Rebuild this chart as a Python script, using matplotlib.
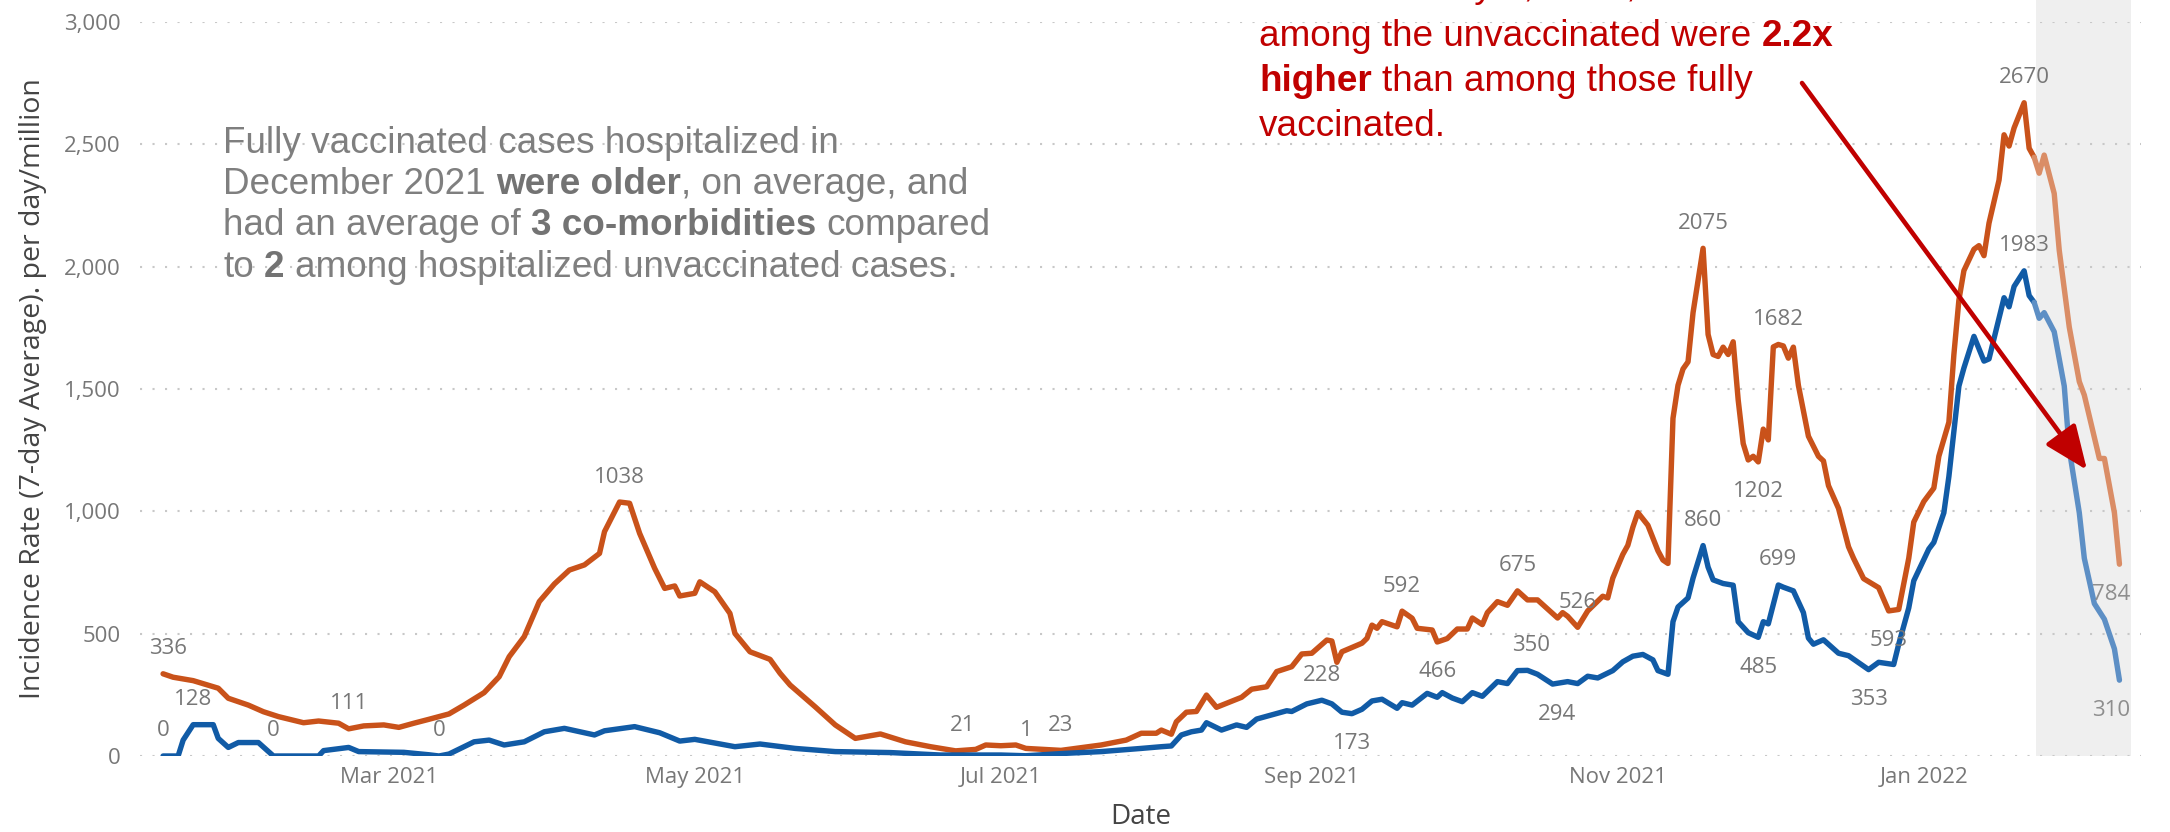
import pandas as pd
import matplotlib
matplotlib.use("Agg")
import matplotlib.pyplot as plt
import matplotlib.dates as mdates
from matplotlib.patches import FancyArrowPatch

# hospitalization incidence, 7-day average per day/million
unvax_dates = [
    "2021-01-15", "2021-01-17", "2021-01-21", "2021-01-26", "2021-01-28", "2021-02-01",
    "2021-02-04", "2021-02-07", "2021-02-12", "2021-02-15", "2021-02-19", "2021-02-21",
    "2021-02-24", "2021-02-28", "2021-03-03", "2021-03-06", "2021-03-09", "2021-03-13",
    "2021-03-16", "2021-03-20", "2021-03-23", "2021-03-25", "2021-03-28", "2021-03-31",
    "2021-04-03", "2021-04-06", "2021-04-09", "2021-04-12", "2021-04-13", "2021-04-16",
    "2021-04-18", "2021-04-20", "2021-04-23", "2021-04-25", "2021-04-27", "2021-04-28",
    "2021-05-01", "2021-05-02", "2021-05-05", "2021-05-08", "2021-05-09", "2021-05-12",
    "2021-05-16", "2021-05-18", "2021-05-20", "2021-05-25", "2021-05-29", "2021-06-02",
    "2021-06-07", "2021-06-12", "2021-06-17", "2021-06-22", "2021-06-26", "2021-06-28",
    "2021-07-01", "2021-07-04", "2021-07-06", "2021-07-13", "2021-07-21", "2021-07-26",
    "2021-07-29", "2021-08-01", "2021-08-02", "2021-08-04", "2021-08-05", "2021-08-07",
    "2021-08-09", "2021-08-11", "2021-08-13", "2021-08-18", "2021-08-20", "2021-08-23",
    "2021-08-25", "2021-08-28", "2021-08-30", "2021-09-01", "2021-09-04", "2021-09-05",
    "2021-09-06", "2021-09-07", "2021-09-11", "2021-09-12", "2021-09-13", "2021-09-14",
    "2021-09-15", "2021-09-18", "2021-09-19", "2021-09-21", "2021-09-22", "2021-09-25",
    "2021-09-26", "2021-09-28", "2021-09-30", "2021-10-02", "2021-10-03", "2021-10-05",
    "2021-10-06", "2021-10-08", "2021-10-10", "2021-10-12", "2021-10-14", "2021-10-16",
    "2021-10-20", "2021-10-21", "2021-10-22", "2021-10-24", "2021-10-26", "2021-10-29",
    "2021-10-30", "2021-10-31", "2021-11-02", "2021-11-03", "2021-11-04", "2021-11-05",
    "2021-11-07", "2021-11-09", "2021-11-10", "2021-11-11", "2021-11-12", "2021-11-13",
    "2021-11-14", "2021-11-15", "2021-11-16", "2021-11-18", "2021-11-19", "2021-11-20",
    "2021-11-21", "2021-11-22", "2021-11-23", "2021-11-24", "2021-11-25", "2021-11-26",
    "2021-11-27", "2021-11-28", "2021-11-29", "2021-11-30", "2021-12-01", "2021-12-02",
    "2021-12-03", "2021-12-04", "2021-12-05", "2021-12-06", "2021-12-07", "2021-12-09",
    "2021-12-11", "2021-12-12", "2021-12-13", "2021-12-15", "2021-12-17", "2021-12-18",
    "2021-12-20", "2021-12-23", "2021-12-25", "2021-12-27", "2021-12-29", "2021-12-30",
    "2022-01-01", "2022-01-03", "2022-01-04", "2022-01-06", "2022-01-07", "2022-01-08",
    "2022-01-09", "2022-01-11", "2022-01-12", "2022-01-13", "2022-01-14", "2022-01-16",
    "2022-01-17", "2022-01-18", "2022-01-19", "2022-01-21", "2022-01-22", "2022-01-23",
    "2022-01-24", "2022-01-25", "2022-01-27", "2022-01-28", "2022-01-30", "2022-02-01",
    "2022-02-02", "2022-02-05", "2022-02-06", "2022-02-08", "2022-02-09",
]
unvax_rates = [
    336, 322, 308, 277, 236, 208,
    181, 161, 136, 143, 134, 111,
    123, 127, 117, 134, 150, 172,
    208, 259, 324, 406, 488, 631,
    703, 760, 781, 828, 917, 1038,
    1033, 910, 767, 685, 695, 654,
    665, 712, 671, 583, 501, 426,
    395, 338, 290, 201, 127, 72,
    90, 58, 38, 21, 27, 45,
    42, 45, 31, 23, 45, 65,
    93, 93, 106, 89, 140, 179,
    182, 249, 199, 240, 273, 283,
    345, 365, 417, 420, 474, 470,
    383, 426, 461, 481, 535, 522,
    549, 528, 592, 563, 522, 515,
    466, 480, 519, 519, 564, 537,
    586, 631, 616, 675, 638, 638,
    564, 586, 571, 526, 593, 653,
    646, 727, 824, 861, 935, 995,
    943, 839, 801, 787, 1380, 1515,
    1582, 1611, 1812, 2075, 1723, 1641,
    1633, 1671, 1641, 1693, 1455, 1277,
    1210, 1225, 1202, 1336, 1292, 1672,
    1682, 1676, 1626, 1671, 1515, 1307,
    1225, 1206, 1105, 1012, 855, 808,
    725, 688, 593, 599, 808, 956,
    1040, 1095, 1225, 1364, 1641, 1864,
    1984, 2071, 2086, 2045, 2178, 2354,
    2539, 2493, 2567, 2670, 2484, 2447,
    2382, 2456, 2299, 2067, 1753, 1530,
    1475, 1216, 1216, 994, 784,
]

vax_dates = [
    "2021-01-15", "2021-01-18", "2021-01-19", "2021-01-21", "2021-01-25", "2021-01-26",
    "2021-01-28", "2021-01-30", "2021-02-03", "2021-02-06", "2021-02-15", "2021-02-16",
    "2021-02-21", "2021-02-23", "2021-03-04", "2021-03-09", "2021-03-11", "2021-03-13",
    "2021-03-18", "2021-03-21", "2021-03-24", "2021-03-28", "2021-04-01", "2021-04-05",
    "2021-04-11", "2021-04-13", "2021-04-19", "2021-04-24", "2021-04-28", "2021-05-01",
    "2021-05-09", "2021-05-14", "2021-05-21", "2021-05-29", "2021-06-09", "2021-06-19",
    "2021-07-01", "2021-07-06", "2021-07-14", "2021-07-21", "2021-07-29", "2021-08-02",
    "2021-08-04", "2021-08-06", "2021-08-08", "2021-08-10", "2021-08-11", "2021-08-14",
    "2021-08-17", "2021-08-19", "2021-08-21", "2021-08-24", "2021-08-27", "2021-08-28",
    "2021-08-31", "2021-09-03", "2021-09-05", "2021-09-07", "2021-09-09", "2021-09-11",
    "2021-09-13", "2021-09-15", "2021-09-18", "2021-09-19", "2021-09-21", "2021-09-24",
    "2021-09-26", "2021-09-27", "2021-09-29", "2021-10-01", "2021-10-03", "2021-10-05",
    "2021-10-08", "2021-10-10", "2021-10-12", "2021-10-14", "2021-10-16", "2021-10-19",
    "2021-10-22", "2021-10-24", "2021-10-26", "2021-10-28", "2021-10-31", "2021-11-02",
    "2021-11-04", "2021-11-06", "2021-11-08", "2021-11-09", "2021-11-11", "2021-11-12",
    "2021-11-13", "2021-11-15", "2021-11-16", "2021-11-18", "2021-11-19", "2021-11-20",
    "2021-11-22", "2021-11-24", "2021-11-25", "2021-11-27", "2021-11-29", "2021-11-30",
    "2021-12-01", "2021-12-03", "2021-12-04", "2021-12-06", "2021-12-08", "2021-12-09",
    "2021-12-10", "2021-12-12", "2021-12-15", "2021-12-17", "2021-12-21", "2021-12-23",
    "2021-12-26", "2021-12-27", "2021-12-29", "2021-12-30", "2022-01-02", "2022-01-03",
    "2022-01-05", "2022-01-06", "2022-01-08", "2022-01-09", "2022-01-11", "2022-01-13",
    "2022-01-14", "2022-01-17", "2022-01-18", "2022-01-19", "2022-01-21", "2022-01-22",
    "2022-01-23", "2022-01-24", "2022-01-25", "2022-01-27", "2022-01-29", "2022-01-30",
    "2022-02-01", "2022-02-02", "2022-02-04", "2022-02-06", "2022-02-08", "2022-02-09",
]
vax_rates = [
    0, 0, 65, 128, 128, 72,
    35, 55, 55, 0, 0, 22,
    35, 18, 15, 5, 0, 8,
    58, 65, 45, 58, 99, 113,
    86, 103, 120, 95, 61, 68,
    38, 49, 31, 18, 14, 4,
    4, 1, 11, 18, 31, 38,
    41, 86, 99, 106, 136, 106,
    127, 117, 151, 168, 185, 182,
    213, 228, 213, 179, 173, 191,
    225, 232, 195, 218, 208, 256,
    240, 259, 237, 222, 259, 244,
    304, 296, 349, 350, 334, 294,
    304, 296, 326, 319, 349, 385,
    408, 415, 393, 349, 334, 549,
    609, 646, 727, 860, 772, 720,
    705, 698, 549, 504, 485, 549,
    540, 699, 690, 675, 586, 482,
    457, 475, 420, 410, 353, 383,
    374, 457, 605, 716, 846, 873,
    994, 1142, 1512, 1586, 1715, 1614,
    1623, 1873, 1836, 1919, 1983, 1882,
    1854, 1789, 1812, 1734, 1512, 1253,
    994, 808, 623, 559, 438, 310,
]

# labelled points: (date, +1 above / -1 below, x nudge in px)
unvax_labels = [
    ("2021-01-15", 1, 5), ("2021-02-21", 1, 0), ("2021-04-16", 1, 0),
    ("2021-06-22", 1, 7), ("2021-07-13", 1, 0), ("2021-09-19", 1, 0),
    ("2021-09-26", -1, 0), ("2021-10-12", 1, 0), ("2021-10-24", 1, 0),
    ("2021-11-18", 1, 0), ("2021-11-29", -1, 0), ("2021-12-03", 1, 0),
    ("2021-12-25", -1, 0), ("2022-01-21", 1, 0), ("2022-02-09", -1, -8),
]
vax_labels = [
    ("2021-01-15", 1, 0), ("2021-01-21", 1, 0), ("2021-02-06", 1, 0),
    ("2021-03-11", 1, 0), ("2021-07-06", 1, 0), ("2021-09-03", 1, 0),
    ("2021-09-09", -1, 0), ("2021-10-14", 1, 4), ("2021-10-19", -1, 4),
    ("2021-11-18", 1, 0), ("2021-11-29", -1, 0), ("2021-12-03", 1, 0),
    ("2021-12-21", -1, 0), ("2022-01-21", 1, 0), ("2022-02-09", -1, -8),
]

partial_from = "2022-01-23"   # latest data, still incomplete (shaded)

W, H = 2170, 832
ORANGE, ORANGE_LT = "#C9521A", "#DA8D66"
BLUE, BLUE_LT = "#115BA6", "#5D8FC5"
LABEL_GREY = "#777777"
RED = "#C00000"

plt.rcParams["font.family"] = ["Open Sans", "DejaVu Sans"]

fig = plt.figure(figsize=(W / 100, H / 100), dpi=100)
ax = fig.add_axes([140 / W, 1 - 756 / H, 2001 / W, 734 / H])

ref = pd.Timestamp("2021-03-01")
ax.set_xlim(ref - pd.Timedelta(days=49.6), ref + pd.Timedelta(days=349.3))
ax.set_ylim(0, 3000)

# shaded incomplete period, runs up to the top of the image
shade = ax.axvspan(pd.Timestamp(partial_from) + pd.Timedelta(hours=10),
                   ref + pd.Timedelta(days=347.3), ymin=0, ymax=756 / 734,
                   color="#EFEFEF", lw=0, zorder=0)
shade.set_clip_on(False)


def draw_series(dates, vals, col, col_lt):
    d = pd.to_datetime(dates)
    cut = pd.Timestamp(partial_from)
    s = [i for i in range(len(d)) if d[i] <= cut]
    f = [i for i in range(len(d)) if d[i] >= cut]
    ax.plot(d[s], [vals[i] for i in s], color=col, lw=3.9, zorder=3,
            solid_joinstyle="round", solid_capstyle="round")
    ax.plot(d[f], [vals[i] for i in f], color=col_lt, lw=3.9, zorder=3,
            solid_joinstyle="round", solid_capstyle="round")


draw_series(unvax_dates, unvax_rates, ORANGE, ORANGE_LT)
draw_series(vax_dates, vax_rates, BLUE, BLUE_LT)


def draw_labels(dates, vals, specs):
    for day, side, dx in specs:
        v = vals[dates.index(day)]
        col = "#8E8E8E" if day >= partial_from else LABEL_GREY
        ax.annotate(str(v), xy=(pd.Timestamp(day), v), xytext=(dx, 25 if side > 0 else -30),
                    textcoords="offset pixels", ha="center", va="center",
                    fontsize=16, color=col, zorder=4)


draw_labels(unvax_dates, unvax_rates, unvax_labels)
draw_labels(vax_dates, vax_rates, vax_labels)

# axes styling
ax.set_yticks(range(0, 3001, 500))
ax.yaxis.set_major_formatter(matplotlib.ticker.FuncFormatter(lambda v, p: f"{v:,.0f}"))
ax.xaxis.set_major_locator(mdates.MonthLocator(bymonth=[1, 3, 5, 7, 9, 11]))
ax.xaxis.set_major_formatter(mdates.DateFormatter("%b %Y"))
ax.tick_params(axis="both", length=0, labelsize=16, labelcolor=LABEL_GREY)
ax.tick_params(axis="y", pad=14)
ax.tick_params(axis="x", pad=8)
ax.grid(axis="y", linestyle=(0, (1, 5)), color="#C8C8C8", linewidth=1.5)
ax.set_axisbelow(True)
for sp in ax.spines.values():
    sp.set_visible(False)
ax.set_facecolor("none")

ax.set_ylabel("Incidence Rate (7-day Average). per day/million", fontsize=20.5, color="#444444")
ax.yaxis.set_label_coords(-107 / 2001, 0.5)
ax.yaxis.label.set_va("center")
ax.set_xlabel("Date", fontsize=20, color="#444444")
ax.xaxis.set_label_coords(0.5, -61 / 734)
ax.xaxis.label.set_va("center")

# call-out texts with bold runs
renderer = fig.canvas.get_renderer()


def rich_line(x, base, parts, size, color, bold_color):
    probe = fig.text(0, 0, "x x", fontsize=size, family="Liberation Sans")
    probe2 = fig.text(0, 0, "xx", fontsize=size, family="Liberation Sans")
    space = probe.get_window_extent(renderer).width - probe2.get_window_extent(renderer).width
    probe.remove()
    probe2.remove()
    cur = x
    for s, bold in parts:
        cur += (len(s) - len(s.lstrip(" "))) * space
        t = fig.text(cur / W, 1 - base / H, s.strip(), fontsize=size, family="Liberation Sans",
                     weight="bold" if bold else "normal",
                     color=bold_color if bold else color, va="baseline", ha="left", zorder=6)
        cur += t.get_window_extent(renderer).width
        cur += (len(s) - len(s.rstrip(" "))) * space


grey_note = [
    [("Fully vaccinated cases hospitalized in", False)],
    [("December 2021 ", False), ("were older", True), (", on average, and", False)],
    [("had an average of ", False), ("3 co-morbidities", True), (" compared", False)],
    [("to ", False), ("2", True), (" among hospitalized unvaccinated cases.", False)],
]
for i, line in enumerate(grey_note):
    rich_line(223, 152.7 + i * 41.3, line, 26.6, "#7F7F7F", "#737373")

# first line of the red note sits above the top edge, only its descenders show
red_note = [
    [("Since January 1, 2022, the rates", False)],
    [("among the unvaccinated were ", False), ("2.2x", True)],
    [("higher", True), (" than among those fully", False)],
    [("vaccinated.", False)],
]
red_base = [-3, 46, 91, 136]
for line, base in zip(red_note, red_base):
    rich_line(1259, base, line, 26.6, RED, RED)

arrow = FancyArrowPatch((1802 / W, 1 - 83 / H), (2087 / W, 1 - 470 / H),
                        transform=fig.transFigure,
                        arrowstyle="-|>,head_length=1.8,head_width=0.75",
                        mutation_scale=15, color=RED, lw=3.3,
                        shrinkA=0, shrinkB=0, zorder=7)
fig.add_artist(arrow)

fig.savefig("out.png", dpi=100)
